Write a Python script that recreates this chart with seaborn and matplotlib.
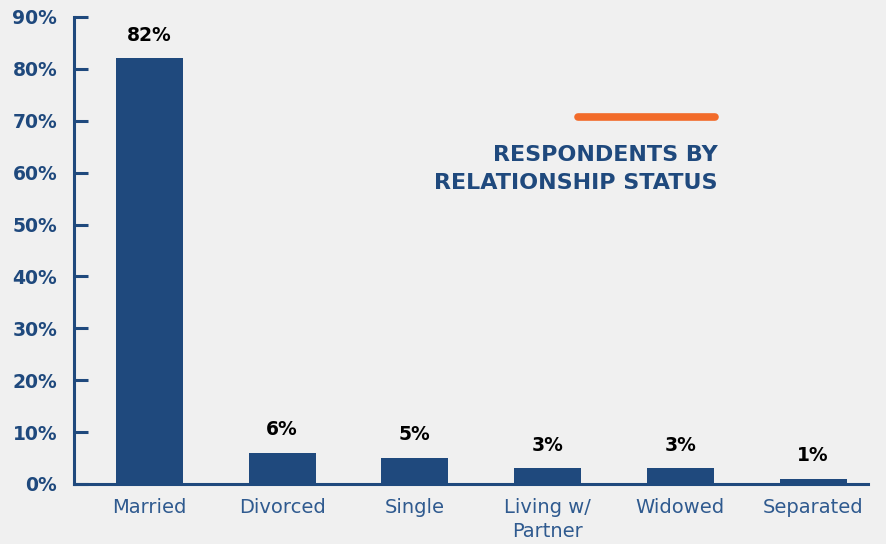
import matplotlib
matplotlib.use("Agg")
import matplotlib.pyplot as plt
import seaborn as sns
import pandas as pd

categories = ["Married", "Divorced", "Single", "Living w/\nPartner", "Widowed", "Separated"]
values = [82, 6, 5, 3, 3, 1]
ytick_values = [0, 10, 20, 30, 40, 50, 60, 70, 80, 90]
ytick_labels = [f"{v}%" for v in ytick_values]
title_lines = ["RESPONDENTS BY", "RELATIONSHIP STATUS"]

NAVY = "#1f497d"
LABEL_BLUE = "#2f5a8f"
ORANGE = "#f26b2a"
BG = "#f0f0f0"

sns.set_theme(style="white")
plt.rcParams["font.family"] = ["DejaVu Sans"]

df = pd.DataFrame({"status": categories, "share": values})

fig = plt.figure(figsize=(8.86, 5.44), dpi=100, facecolor=BG)
ax = fig.add_axes([0.0835, 0.1103, 0.8962, 0.8585])
ax.set_facecolor(BG)

sns.barplot(data=df, x="status", y="share", color=NAVY, saturation=1,
            width=0.505, linewidth=0, ax=ax)

ax.set_xlim(-0.569, 5.414)
ax.set_ylim(0, 90)
ax.set_yticks(ytick_values)
ax.set_yticklabels(ytick_labels)
ax.set_xlabel("")
ax.set_ylabel("")

for s in ["top", "right"]:
    ax.spines[s].set_visible(False)
for s in ["left", "bottom"]:
    ax.spines[s].set_color(NAVY)
    ax.spines[s].set_linewidth(2.2)

ax.tick_params(axis="y", left=True, direction="in", length=10, width=2.2,
               color=NAVY, pad=12, labelsize=13.5, labelcolor=NAVY)
for lbl in ax.get_yticklabels():
    lbl.set_fontweight("bold")
ax.tick_params(axis="x", bottom=False, length=0, pad=10, labelsize=14,
               labelcolor=LABEL_BLUE)
for lbl in ax.get_xticklabels():
    lbl.set_linespacing(1.35)

for container in ax.containers:
    ax.bar_label(container, labels=[f"{v}%" for v in values], padding=10,
                 fontsize=13.5, fontweight="bold", color="black")

# Orange accent line and chart heading
fig.add_artist(plt.Line2D([578 / 886, 715 / 886], [1 - 117 / 544, 1 - 117 / 544],
                          color=ORANGE, linewidth=5.5, solid_capstyle="round"))
fig.text(718 / 886, 1 - 169 / 544, "\n".join(title_lines), ha="right", va="center",
         fontsize=16, fontweight="bold", color=NAVY, linespacing=1.45)

fig.savefig("out.png", dpi=100, facecolor=BG)
